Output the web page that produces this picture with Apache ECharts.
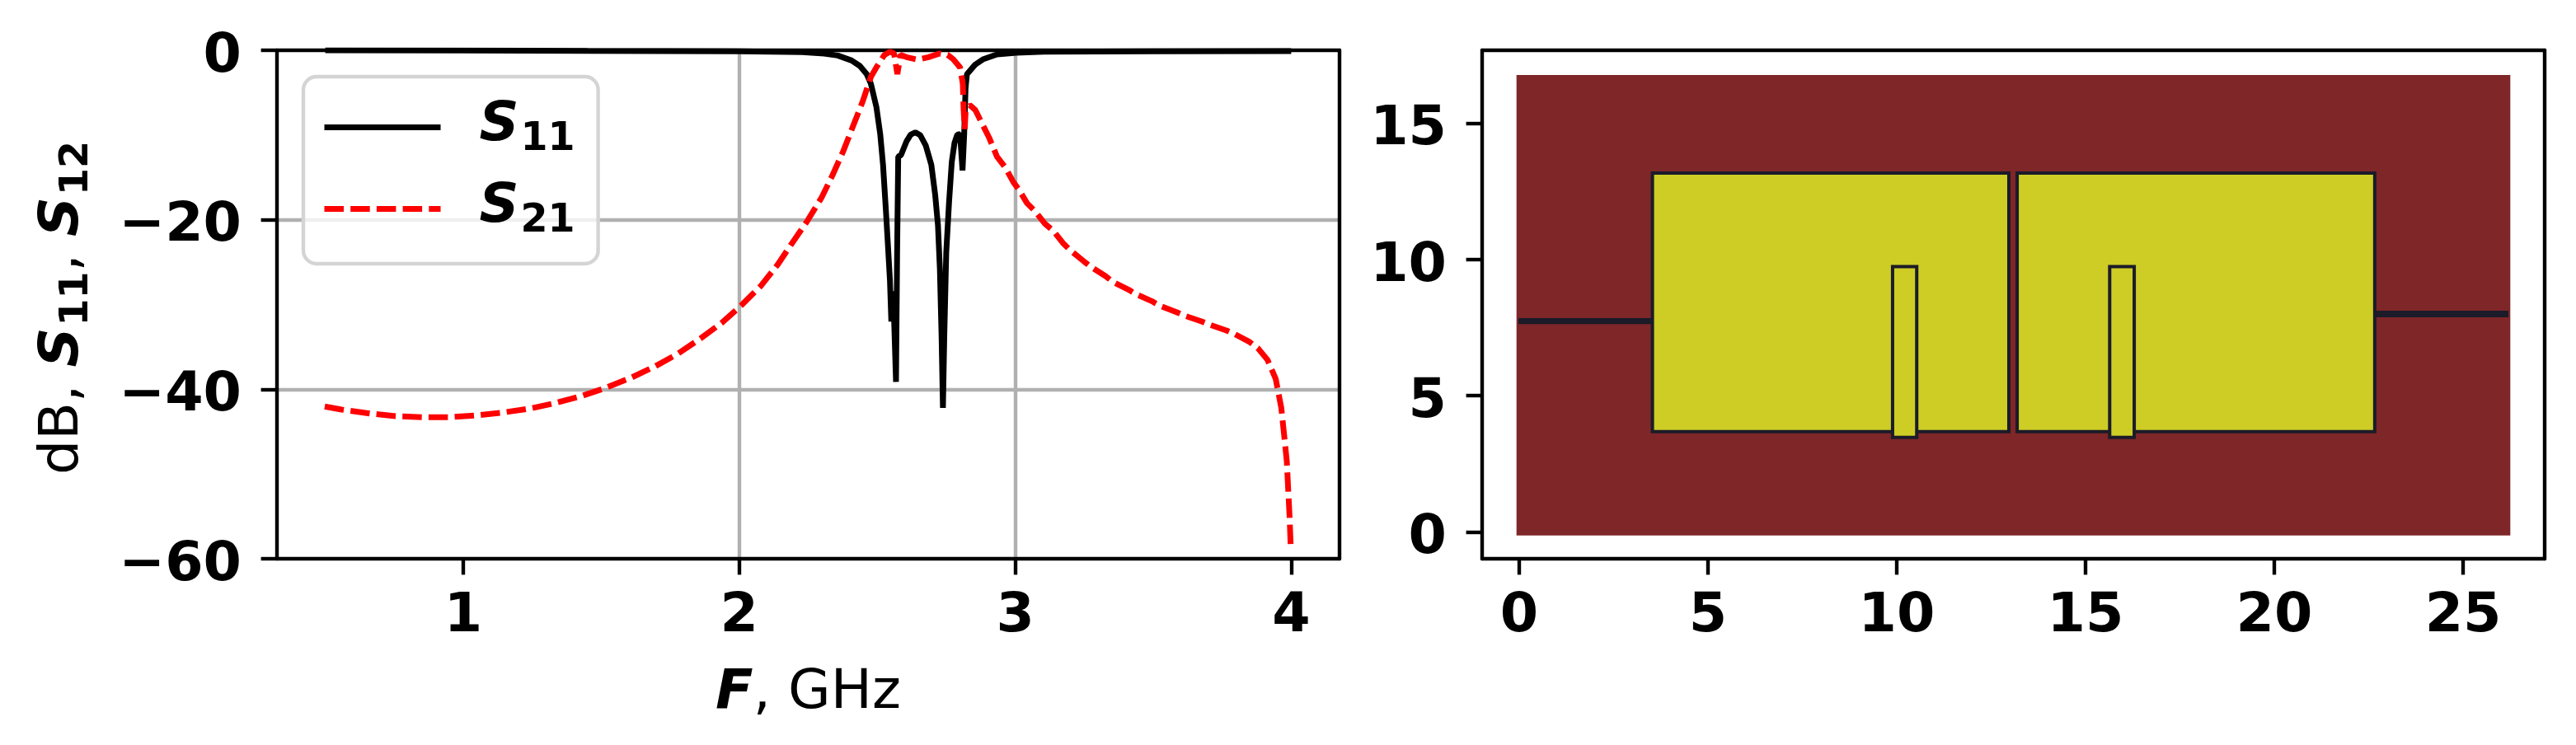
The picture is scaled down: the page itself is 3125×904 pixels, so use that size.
<!DOCTYPE html>
<html>
<head>
<meta charset="utf-8">
<style>html,body{margin:0;padding:0;background:#fff}#c{width:3125px;height:904px}</style>
<script src="https://cdn.jsdelivr.net/npm/echarts@6/dist/echarts.min.js"></script>
</head>
<body>
<div id="c"></div>
<script>
var s11Freq = [0.5,1.0,1.45,2.0,2.228,2.308,2.357,2.407,2.437,2.462,2.477,2.497,2.511,2.521,2.531,2.538,2.546,2.551,2.558,2.568,2.572,2.576,2.586,2.606,2.621,2.638,2.656,2.676,2.696,2.710,2.720,2.727,2.733,2.738,2.743,2.750,2.760,2.770,2.780,2.790,2.800,2.809,2.815,2.820,2.825,2.855,2.885,2.934,3.004,3.104,3.5,4.0];
var s11Db = [-0.01,-0.03,-0.08,-0.12,-0.23,-0.39,-0.62,-1.2,-1.85,-2.82,-3.95,-6.71,-9.95,-13.52,-18.7,-22.6,-27.13,-32,-28.43,-39.13,-23.89,-12.54,-12.38,-10.76,-9.95,-9.69,-10.02,-11.25,-13.52,-17.08,-20.65,-25.83,-33.61,-42.2,-33.61,-23.89,-18.05,-13.19,-10.92,-9.95,-9.89,-14.17,-9.95,-4.44,-2.82,-1.69,-1.04,-0.49,-0.29,-0.16,-0.13,-0.1];
var s21Freq = [0.498,0.559,0.662,0.755,0.858,0.95,1.048,1.14,1.238,1.33,1.428,1.516,1.608,1.696,1.778,1.86,1.937,2.009,2.079,2.138,2.188,2.243,2.298,2.337,2.377,2.412,2.447,2.477,2.497,2.526,2.546,2.561,2.573,2.584,2.606,2.646,2.686,2.725,2.755,2.775,2.80,2.81,2.813,2.817,2.82,2.835,2.855,2.875,2.905,2.934,2.964,2.994,3.013,3.043,3.073,3.108,3.138,3.173,3.198,3.247,3.272,3.327,3.352,3.411,3.436,3.496,3.521,3.586,3.61,3.675,3.705,3.765,3.795,3.849,3.879,3.914,3.929,3.944,3.964,3.974,3.984,3.989,3.994,3.998];
var s21Db = [-42.04,-42.4,-42.86,-43.18,-43.3,-43.3,-43.08,-42.76,-42.3,-41.65,-40.8,-39.84,-38.64,-37.28,-35.8,-34.0,-32.16,-30.05,-27.78,-25.35,-22.92,-20.32,-17.4,-14.81,-11.9,-8.98,-6.06,-3.14,-2.01,-0.55,-0.16,-0.39,-2.82,-0.55,-0.81,-1.1,-0.81,-0.39,-0.55,-1.04,-2.01,-3.95,-7.03,-9.3,-7.36,-6.45,-7.03,-8.33,-10.28,-12.55,-13.84,-15.6,-16.43,-18.05,-19.03,-20.48,-21.3,-22.75,-23.56,-24.86,-25.5,-26.64,-27.29,-28.26,-28.75,-29.62,-30.11,-30.92,-31.28,-31.99,-32.38,-33.06,-33.48,-34.42,-35.14,-36.53,-37.66,-38.8,-42.2,-45.3,-48.5,-51.8,-55,-58.5];

var freqTicks = [1,2,3,4];
var dbTicks = [-60,-40,-20,0];
var layoutXTicks = [0,5,10,15,20,25];
var layoutYTicks = [0,5,10,15];

var substrate = [-0.07,26.25,-0.13,16.77];
var feedLeft = [-0.02,3.53,7.63,7.85];
var feedRight = [22.66,26.2,7.88,8.12];
var patchLeft = [3.53,12.97,3.68,13.17];
var patchRight = [13.19,22.66,3.68,13.17];
var slotLeft = [9.89,10.53,3.47,9.74];
var slotRight = [15.64,16.29,3.47,9.74];

var font = '"DejaVu Sans"';
var tickFont = 66.7;
var rectRows = [
  substrate.concat('substrate'),
  feedLeft.concat('feed'),
  feedRight.concat('feed'),
  patchLeft.concat('patch'),
  patchRight.concat('patch'),
  slotLeft.concat('patch'),
  slotRight.concat('patch')
];
var rectStyles = {
  substrate: {fill:'#7f2628', stroke:null, lineWidth:0},
  feed: {fill:'#1b1b29', stroke:null, lineWidth:0},
  patch: {fill:'#cdcd26', stroke:'#1b1b29', lineWidth:4}
};

function pairs(a,b){return a.map(function(v,i){return [v,b[i]];});}
function minus(v){return String(v).replace('-','\u2212');}

var rich = {
  r:{fontFamily:font,fontSize:tickFont,fontWeight:'normal',fontStyle:'normal',color:'#000',lineHeight:90,verticalAlign:'bottom',padding:[0,0,8,0]},
  s:{fontFamily:font,fontSize:tickFont,fontWeight:'bold',fontStyle:'italic',color:'#000',lineHeight:90,verticalAlign:'bottom',padding:[0,0,8,0]},
  n:{fontFamily:font,fontSize:47.5,fontWeight:'bold',fontStyle:'normal',color:'#000',lineHeight:90,verticalAlign:'bottom',padding:[0,0,0,2]}
};

function mainAxis(o){
  return Object.assign({
    type:'value', axisLine:{show:true,onZero:false,lineStyle:{color:'#000',width:4.4}},
    splitLine:{show:false}
  },o);
}
function frameAxis(o){
  return Object.assign({
    type:'value', axisLine:{show:true,onZero:false,lineStyle:{color:'#000',width:4.4}},
    axisTick:{show:false}, axisLabel:{show:false}, splitLine:{show:false}
  },o);
}
function grid(ticks){
  return {show:true,customValues:ticks,showMinLine:false,showMaxLine:false,lineStyle:{color:'#b0b0b0',width:4.4}};
}
function ticksOn(list,base){
  return Object.assign({},base,{customValues:list});
}
var tickBase = {show:true,length:19.4,lineStyle:{color:'#000',width:4.4}};
var xLabelBase = {show:true,fontFamily:font,fontSize:tickFont,fontWeight:'bold',color:'#000',margin:37,hideOverlap:false,formatter:minus};
var yLabelBase = {show:true,color:'#000',margin:43,hideOverlap:false,
  formatter:function(v){return '{t|'+minus(v)+'}';},
  rich:{t:{fontFamily:font,fontSize:tickFont,fontWeight:'bold',color:'#000',lineHeight:84,verticalAlign:'bottom'}}};

var option = {
  animation:false,
  backgroundColor:'#fff',
  grid:[
    {left:336,top:61,width:1289,height:617,containLabel:false},
    {left:1798,top:61,width:1289,height:617,containLabel:false}
  ],
  legend:{
    left:368,top:93,orient:'vertical',selectedMode:false,
    padding:[26,28,27,22],itemWidth:141,itemHeight:60,itemGap:24,
    backgroundColor:'rgba(255,255,255,0.8)',borderColor:'#d4d4d4',borderWidth:4.4,borderRadius:16,
    itemStyle:{opacity:0},
    lineStyle:{width:7},
    data:['S11','S21'],
    formatter:function(n){return '{s|S}{n|'+n.slice(1)+'}';},
    textStyle:{padding:[0,0,11,42],rich:rich}
  },
  xAxis:[
    mainAxis({gridIndex:0,position:'bottom',min:0.325,max:4.175,
      axisTick:ticksOn(freqTicks,tickBase),axisLabel:ticksOn(freqTicks,xLabelBase),splitLine:grid(freqTicks),
      name:'{s|F}{r|, GHz}',nameLocation:'middle',nameGap:115,nameTextStyle:{rich:rich}}),
    frameAxis({gridIndex:0,position:'top',min:0.325,max:4.175}),
    mainAxis({gridIndex:1,position:'bottom',min:-0.98,max:27.16,
      axisTick:ticksOn(layoutXTicks,tickBase),axisLabel:ticksOn(layoutXTicks,xLabelBase)}),
    frameAxis({gridIndex:1,position:'top',min:-0.98,max:27.16})
  ],
  yAxis:[
    mainAxis({gridIndex:0,position:'left',min:-60,max:0,
      axisTick:ticksOn(dbTicks,tickBase),axisLabel:ticksOn(dbTicks,yLabelBase),splitLine:grid(dbTicks),
      name:'{r|dB, }{s|S}{n|11}{r|, }{s|S}{n|12}',nameLocation:'middle',nameRotate:90,nameGap:218,nameTextStyle:{rich:rich,padding:[0,8,0,0]}}),
    frameAxis({gridIndex:0,position:'right',min:-60,max:0}),
    mainAxis({gridIndex:1,position:'left',min:-0.985,max:17.68,
      axisTick:ticksOn(layoutYTicks,tickBase),axisLabel:ticksOn(layoutYTicks,yLabelBase)}),
    frameAxis({gridIndex:1,position:'right',min:-0.985,max:17.68})
  ],
  series:[
    {name:'S11',type:'line',xAxisIndex:0,yAxisIndex:0,data:pairs(s11Freq,s11Db),showSymbol:false,symbol:'none',
      lineStyle:{color:'#000',width:7},itemStyle:{color:'#000'},z:3},
    {name:'S21',type:'line',xAxisIndex:0,yAxisIndex:0,data:pairs(s21Freq,s21Db),showSymbol:false,symbol:'none',
      lineStyle:{color:'#ff0000',width:7,type:[23.5,8.2]},itemStyle:{color:'#ff0000'},z:4},
    {type:'custom',xAxisIndex:2,yAxisIndex:2,data:rectRows,silent:true,clip:false,
      encode:{x:[0,1],y:[2,3]},
      renderItem:function(params,api){
        var p0=api.coord([api.value(0),api.value(3)]);
        var p1=api.coord([api.value(1),api.value(2)]);
        var st=rectStyles[rectRows[params.dataIndex][4]];
        return {type:'rect',shape:{x:p0[0],y:p0[1],width:p1[0]-p0[0],height:p1[1]-p0[1]},
          style:{fill:st.fill,stroke:st.stroke,lineWidth:st.lineWidth}};
      }}
  ]
};
echarts.init(document.getElementById('c'),null,{renderer:'canvas'}).setOption(option);
</script>
</body>
</html>
